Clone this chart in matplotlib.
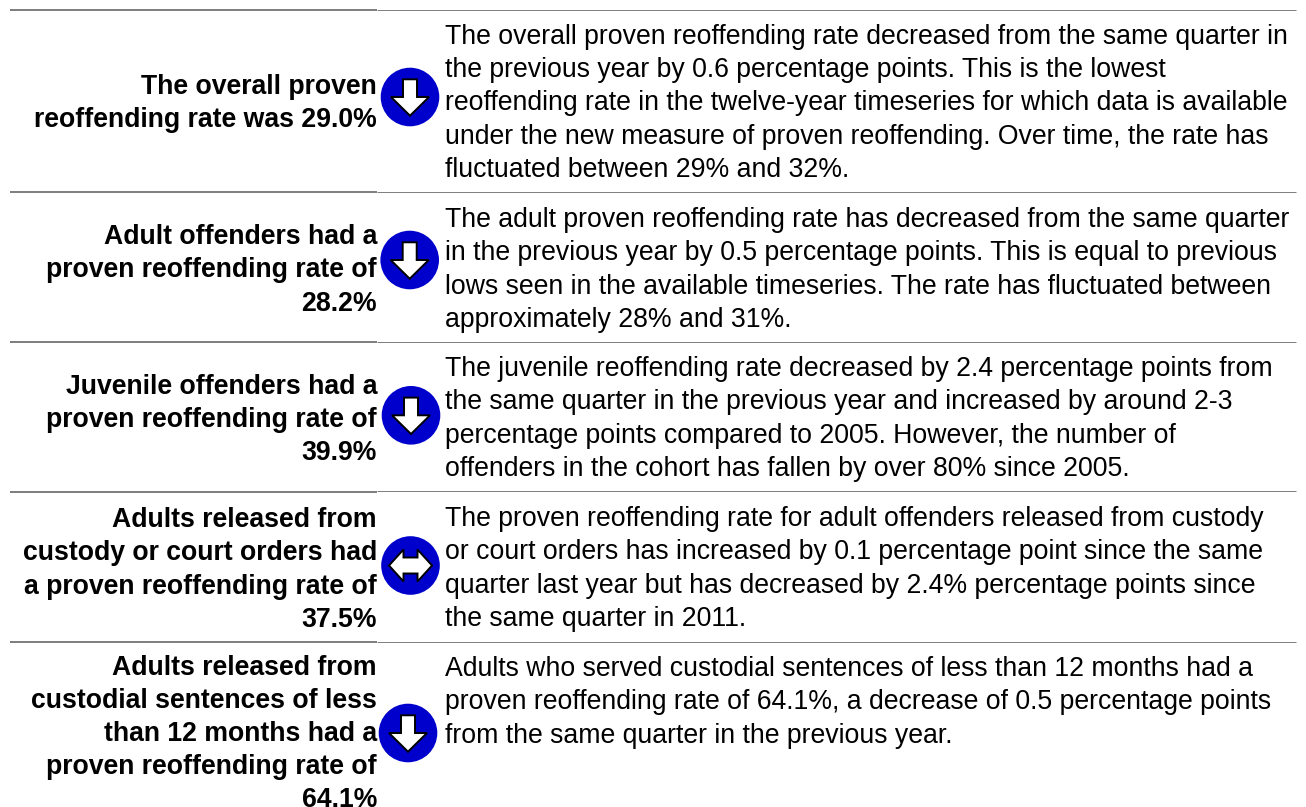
import matplotlib
matplotlib.use("Agg")
import matplotlib.pyplot as plt
from matplotlib.patches import Circle, Polygon

plt.rcParams["font.family"] = "Liberation Sans"

W, H = 1306, 807

left_texts = [
    "The overall proven\nreoffending rate was 29.0%",
    "Adult offenders had a\nproven reoffending rate of\n28.2%",
    "Juvenile offenders had a\nproven reoffending rate of\n39.9%",
    "Adults released from\ncustody or court orders had\na proven reoffending rate of\n37.5%",
    "Adults released from\ncustodial sentences of less\nthan 12 months had a\nproven reoffending rate of\n64.1%",
]
right_texts = [
    "The overall proven reoffending rate decreased from the same quarter in\n"
    "the previous year by 0.6 percentage points. This is the lowest\n"
    "reoffending rate in the twelve-year timeseries for which data is available\n"
    "under the new measure of proven reoffending. Over time, the rate has\n"
    "fluctuated between 29% and 32%.",
    "The adult proven reoffending rate has decreased from the same quarter\n"
    "in the previous year by 0.5 percentage points. This is equal to previous\n"
    "lows seen in the available timeseries. The rate has fluctuated between\n"
    "approximately 28% and 31%.",
    "The juvenile reoffending rate decreased by 2.4 percentage points from\n"
    "the same quarter in the previous year and increased by around 2-3\n"
    "percentage points compared to 2005. However, the number of\n"
    "offenders in the cohort has fallen by over 80% since 2005.",
    "The proven reoffending rate for adult offenders released from custody\n"
    "or court orders has increased by 0.1 percentage point since the same\n"
    "quarter last year but has decreased by 2.4% percentage points since\n"
    "the same quarter in 2011.",
    "Adults who served custodial sentences of less than 12 months had a\n"
    "proven reoffending rate of 64.1%, a decrease of 0.5 percentage points\n"
    "from the same quarter in the previous year.",
]
directions = ["down", "down", "down", "flat", "down"]

rule_y = [10, 192, 342, 491.5, 642]
# first line baselines, pixels from the top
left_base = [92.7, 242.7, 392.7, 526, 674]
right_base = [42.7, 225.7, 375, 525, 675]
icon_x = [410, 409.7, 411, 410.5, 408]
icon_y = [97, 260, 415.3, 565.5, 733]

FONT_SIZE = 19.2
LINE_SPACING = 1.37
TOP_OFFSET = 19

fig = plt.figure(figsize=(W / 100, H / 100), dpi=100)
ax = fig.add_axes([0, 0, 1, 1])
ax.set_xlim(0, W)
ax.set_ylim(H, 0)
ax.axis("off")


def draw_icon(cx, cy, kind):
    ax.add_patch(Circle((cx, cy), 29.3, fc="#0000cc", ec="none"))
    if kind == "down":
        pts = [(-7, -17.7), (7, -17.7), (7, 0), (19, 0), (0, 18.7), (-19, 0), (-7, 0)]
    else:
        pts = [(-21.5, 0), (-7, -16), (-7, -8), (7, -8), (7, -16), (21.5, 0), (7, 16), (7, 8), (-7, 8), (-7, 16)]
    ax.add_patch(Polygon([(cx + x, cy + y) for x, y in pts], fc="white", ec="black", lw=1.4, joinstyle="miter"))


for y in rule_y:
    ax.plot([10, 377], [y, y], color="#808080", lw=1.44, solid_capstyle="butt")
    ax.plot([377, 1296], [y - 0.5, y - 0.5], color="#808080", lw=0.72, solid_capstyle="butt")

for i in range(5):
    # last left block runs to the bottom edge, so it is set a bit tighter
    spacing = 1.35 if i == 4 else LINE_SPACING
    ax.text(377, left_base[i] - TOP_OFFSET, left_texts[i], ha="right", va="top", fontsize=FONT_SIZE,
            fontweight="bold", linespacing=spacing, color="black")
    ax.text(445, right_base[i] - TOP_OFFSET, right_texts[i], ha="left", va="top", fontsize=FONT_SIZE,
            linespacing=LINE_SPACING, color="black")
    draw_icon(icon_x[i], icon_y[i], directions[i])

fig.savefig("out.png", dpi=100)
